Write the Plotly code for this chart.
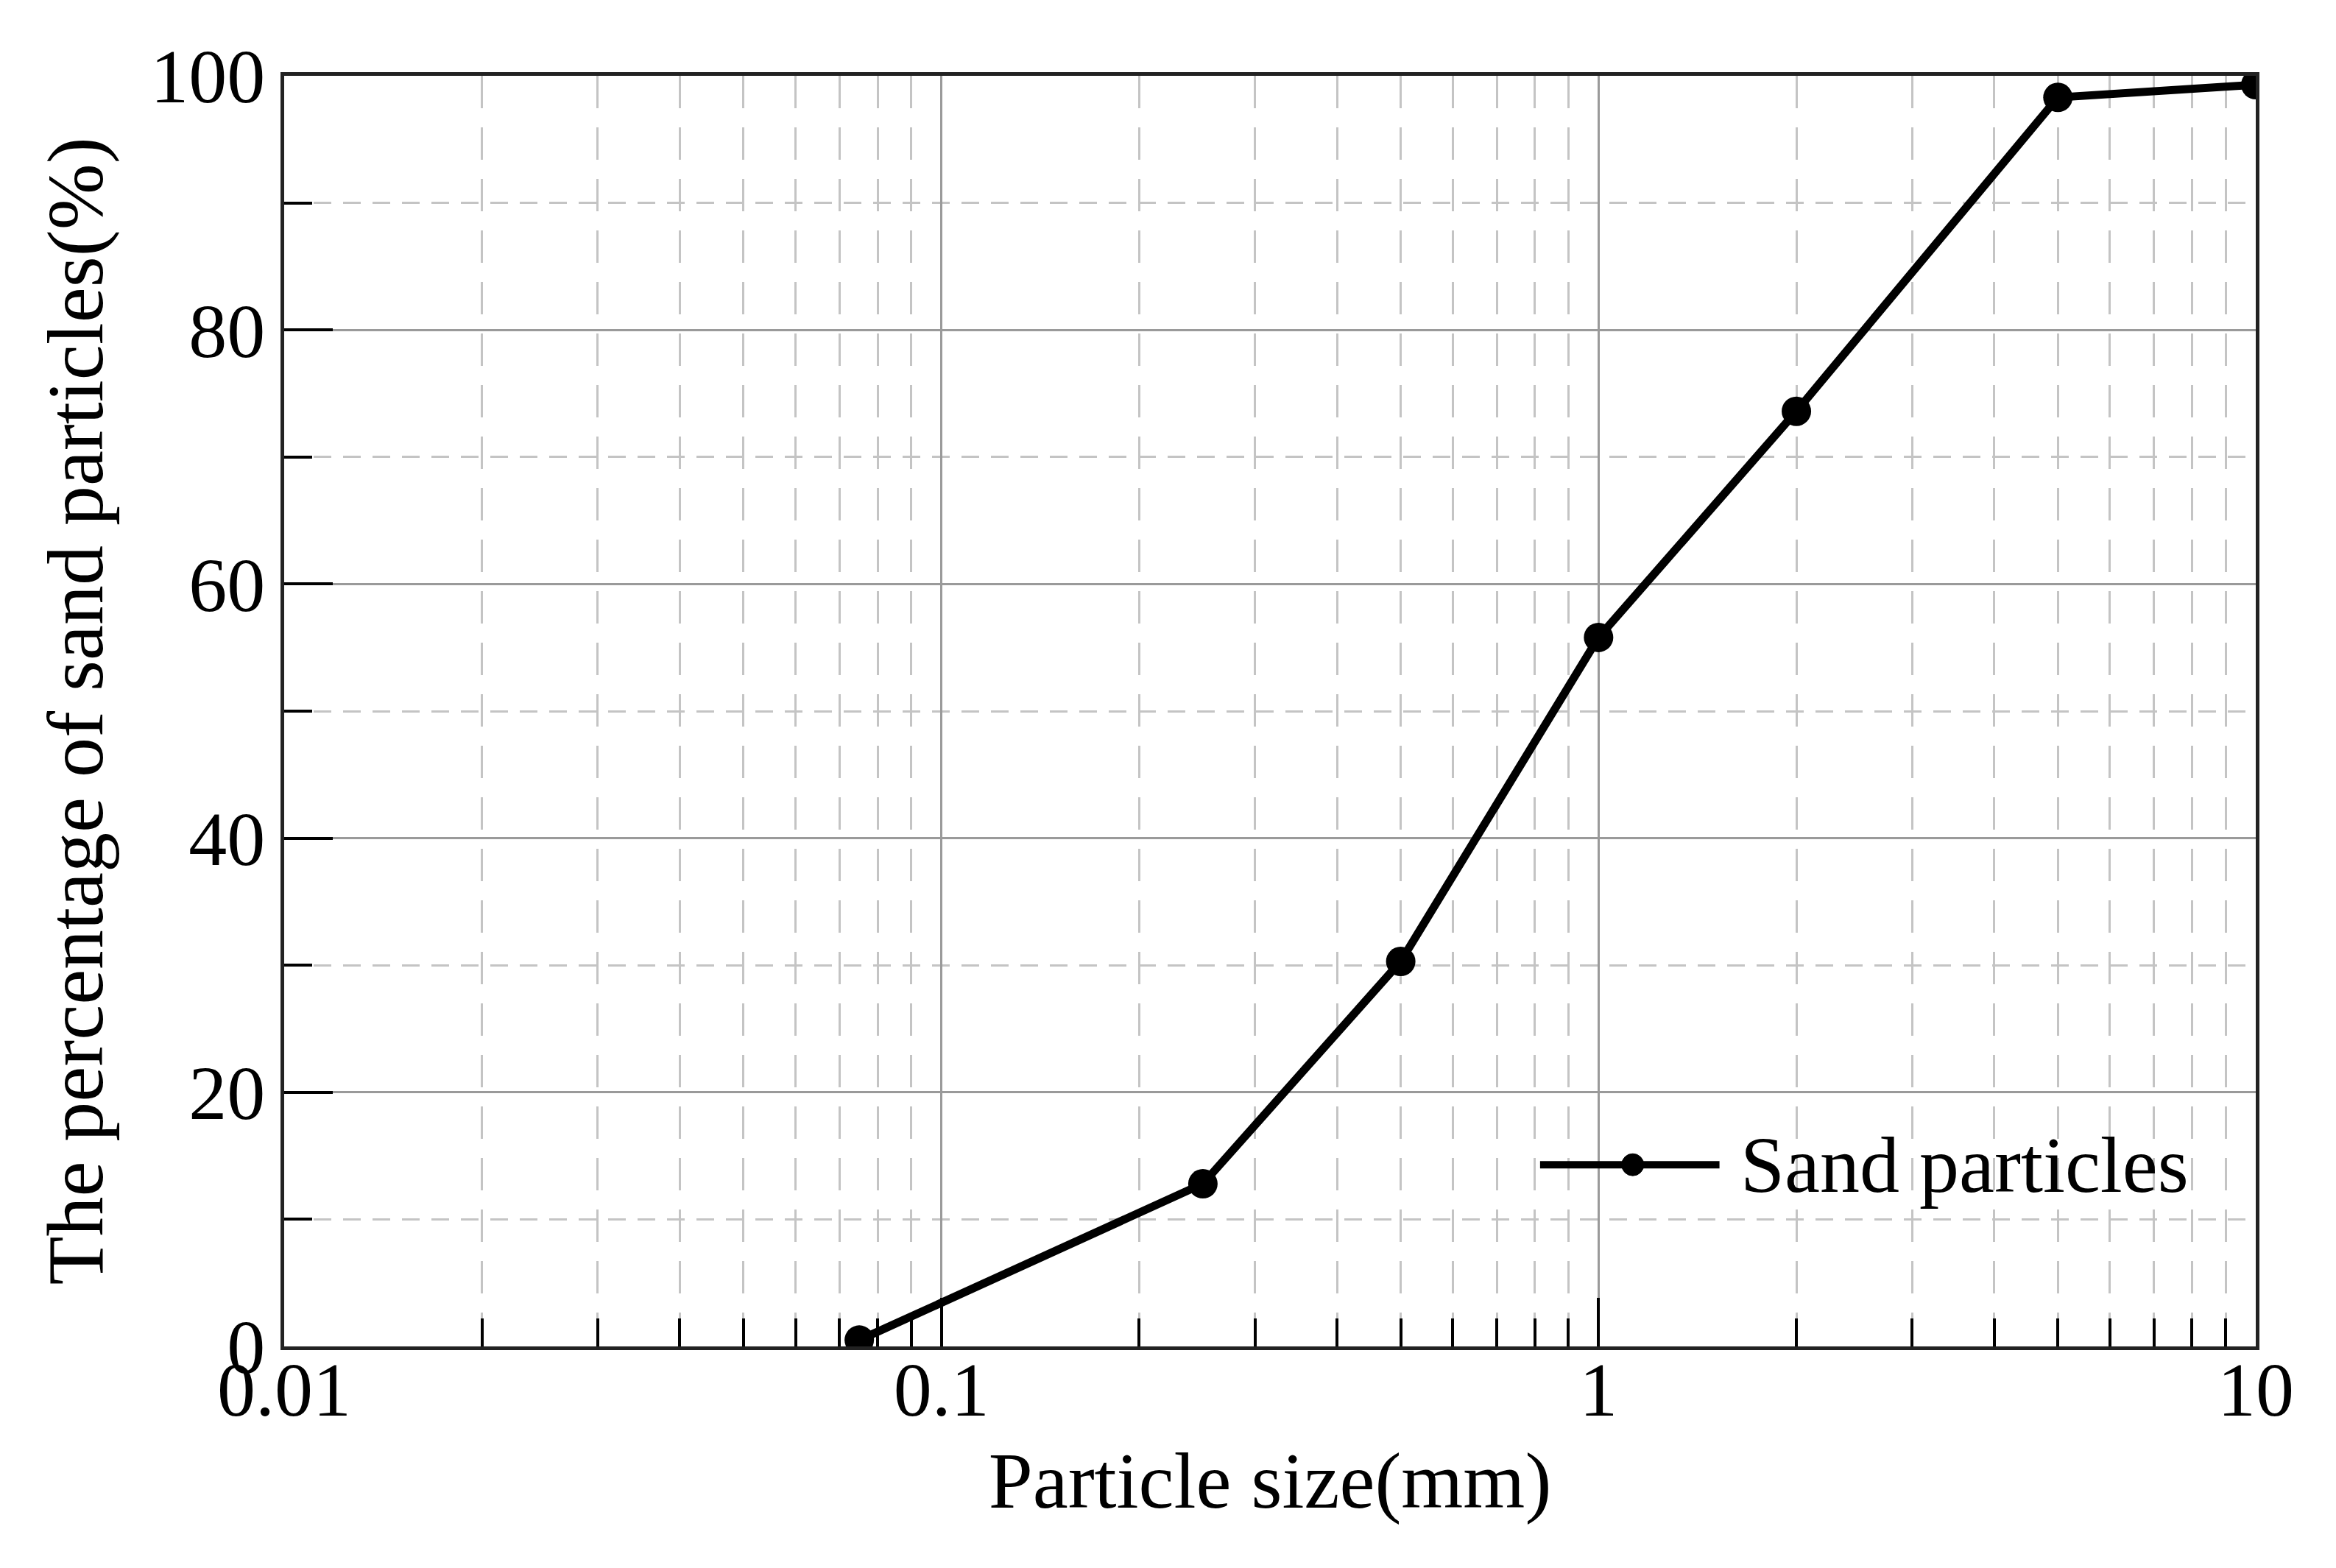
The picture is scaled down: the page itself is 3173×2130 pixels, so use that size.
import plotly.graph_objects as go

# particle size distribution
particle_size_mm = [0.075, 0.25, 0.5, 1, 2, 5, 10]
percent_passing = [0.5, 12.8, 30.3, 55.8, 73.6, 98.3, 99.3]
series_name = "Sand particles"

x_tick_vals = [0.01, 0.1, 1, 10]
x_tick_text = ["0.01", "0.1", "1", "10"]

FONT = "Liberation Serif, Times New Roman, serif"
W, H = 3173, 2130
L, R, T, B = 378, 117, 95, 309

fig = go.Figure()
fig.add_trace(go.Scatter(
    x=particle_size_mm, y=percent_passing, name=series_name,
    mode="lines+markers",
    line=dict(color="black", width=11),
    marker=dict(color="black", size=40, symbol="circle"),
    showlegend=False,
))

minor_x = [m * 10 ** e for e in (-2, -1, 0) for m in range(2, 10)]

fig.update_xaxes(
    type="log", range=[-2, 1],
    tickmode="array", tickvals=x_tick_vals, ticktext=x_tick_text,
    ticks="inside", ticklen=66, tickwidth=4, tickcolor="black",
    ticklabelstandoff=-36,
    showline=True, linecolor="#222", linewidth=5, mirror=True,
    showgrid=True, gridcolor="#9a9a9a", gridwidth=3,
    minor=dict(tickvals=minor_x, ticks="inside", ticklen=38, tickwidth=4,
               tickcolor="black", showgrid=True, gridcolor="#c4c4c4",
               gridwidth=3, griddash="44px,26px"),
    tickfont=dict(family=FONT, size=104, color="black"),
    title=dict(text="Particle size(mm)", font=dict(family=FONT, size=108, color="black"),
               standoff=30),
    zeroline=False,
)
fig.update_yaxes(
    range=[0, 100], dtick=20, tick0=0,
    ticks="inside", ticklen=66, tickwidth=4, tickcolor="black",
    showline=True, linecolor="#222", linewidth=5, mirror=True,
    showgrid=True, gridcolor="#9a9a9a", gridwidth=3,
    minor=dict(dtick=10, ticks="inside", ticklen=38, tickwidth=4,
               tickcolor="black", showgrid=True, gridcolor="#c4c4c4",
               gridwidth=3, griddash="24px,16px"),
    tickfont=dict(family=FONT, size=104, color="black"),
    title=dict(text="The percentage of sand particles(%)",
               font=dict(family=FONT, size=108, color="black"), standoff=30),
    zeroline=False,
)

# legend drawn by hand so the sample line is as long as in the original
leg_y = 0.143
fig.add_shape(type="line", xref="paper", yref="paper",
              x0=0.637, x1=0.728, y0=leg_y, y1=leg_y,
              line=dict(color="black", width=10))
fig.add_shape(type="circle", xref="paper", yref="paper",
              xsizemode="pixel", ysizemode="pixel",
              xanchor=0.684, yanchor=leg_y, x0=-15, x1=15, y0=-15, y1=15,
              fillcolor="black", line=dict(color="black", width=1))
fig.add_annotation(x=0.738, y=leg_y, xref="paper", yref="paper",
                   xanchor="left", yanchor="middle", showarrow=False,
                   text=series_name, font=dict(family=FONT, size=108, color="black"))

fig.update_layout(
    width=W, height=H,
    margin=dict(l=L, r=R, t=T, b=B),
    paper_bgcolor="white", plot_bgcolor="white",
)

fig.write_html("out.html")
